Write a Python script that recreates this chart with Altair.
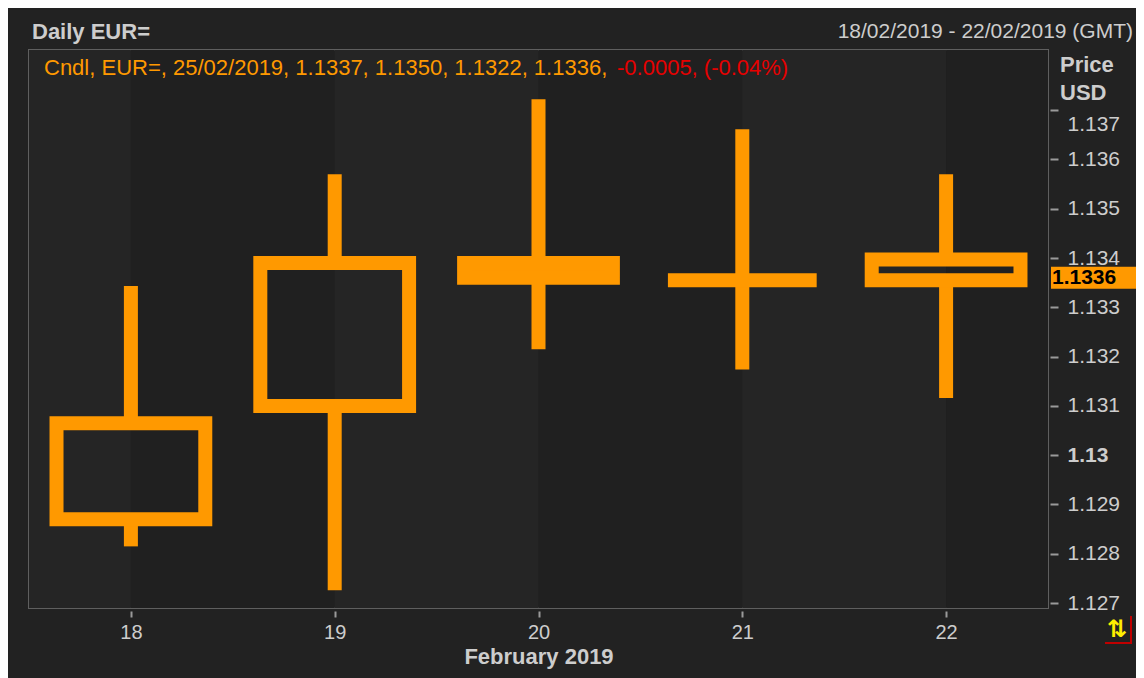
import altair as alt
import pandas as pd

# ---- data ----
days = [18, 19, 20, 21, 22]
opens = [1.12870, 1.13100, 1.13390, 1.13355, 1.13355]
highs = [1.13343, 1.13570, 1.13722, 1.13661, 1.13570]
lows = [1.12815, 1.12726, 1.13215, 1.13174, 1.13116]
closes = [1.13065, 1.13390, 1.13360, 1.13355, 1.13397]

y_ticks = [1.127, 1.128, 1.129, 1.13, 1.131, 1.132, 1.133, 1.134, 1.135, 1.136, 1.137]
x_ticks = [18, 19, 20, 21, 22]

band_start = [17.5, 18, 19, 20, 21, 22]
band_end = [18, 19, 20, 21, 22, 22.5]
band_shade = ["light", "dark", "light", "dark", "light", "dark"]

last_price = 1.1336
last_label = "1.1336"

title_left = "Daily EUR="
title_right = "18/02/2019 - 22/02/2019 (GMT)"
legend_main = "Cndl, EUR=, 25/02/2019, 1.1337, 1.1350, 1.1322, 1.1336, "
legend_change = "-0.0005, (-0.04%)"
axis_unit_1 = "Price"
axis_unit_2 = "USD"
x_title = "February 2019"
icon_glyph = "⇅"

# ---- styling ----
ORANGE = "#ff9900"
RED = "#e60000"
GREY_TXT = "#cdcdcd"
BG = "#222222"
FONT = "Liberation Sans"
W, H = 1019, 558
HALF_BODY = 0.365

df = pd.DataFrame({"day": days, "open": opens, "high": highs, "low": lows, "close": closes})
bands = pd.DataFrame({"start": band_start, "end": band_end, "shade": band_shade})

x_scale = alt.Scale(domain=[17.5, 22.5], nice=False, zero=False)
y_scale = alt.Scale(domain=[1.12690, 1.13822], nice=False, zero=False)

band_layer = alt.Chart(bands).mark_rect().encode(
    x=alt.X("start:Q", scale=x_scale,
            axis=alt.Axis(values=x_ticks, format="d", title=x_title, grid=False, domain=False,
                          tickSize=6, tickWidth=2, tickColor="#9a9a9a", offset=3,
                          labelFontSize=20, labelColor=GREY_TXT, labelFont=FONT, labelPadding=5,
                          titleFontSize=22, titleFontWeight="bold", titleColor=GREY_TXT,
                          titleFont=FONT, titlePadding=4)),
    x2="end:Q",
    y=alt.value(0),
    y2=alt.value(H),
    color=alt.Color("shade:N", scale=alt.Scale(domain=["light", "dark"], range=["#252525", "#202020"]),
                    legend=None),
)

base = alt.Chart(df).transform_calculate(
    x0=f"datum.day - {HALF_BODY}",
    x1=f"datum.day + {HALF_BODY}",
    top="max(datum.open, datum.close)",
    bot="min(datum.open, datum.close)",
)

y_axis = alt.Axis(orient="right", values=y_ticks, format=".3~f", title=None, grid=False, domain=False,
                  tickSize=8, tickWidth=2, tickColor="#9a9a9a", offset=2,
                  labelFontSize=21, labelColor=GREY_TXT, labelFont=FONT, labelPadding=9,
                  labelOffset={"condition": {"test": "datum.value > 1.1365", "value": 14}, "value": 0},
                  labelFontWeight={"condition": {"test": "abs(datum.value - 1.13) < 1e-9", "value": "bold"},
                                   "value": "normal"})

upper_wick = base.mark_rule(strokeWidth=14, strokeCap="butt", color=ORANGE).encode(
    x=alt.X("day:Q", scale=x_scale),
    y=alt.Y("high:Q", scale=y_scale, axis=y_axis),
    y2="top:Q",
)
lower_wick = base.mark_rule(strokeWidth=14, strokeCap="butt", color=ORANGE).encode(
    x=alt.X("day:Q", scale=x_scale),
    y=alt.Y("bot:Q", scale=y_scale),
    y2="low:Q",
)
body = base.mark_rect(stroke=ORANGE, strokeWidth=14, fill=ORANGE, strokeJoin="miter").encode(
    x=alt.X("x0:Q", scale=x_scale),
    x2="x1:Q",
    y=alt.Y("open:Q", scale=y_scale),
    y2="close:Q",
    fillOpacity=alt.condition("datum.close < datum.open", alt.value(1), alt.value(0)),
)

last_df = pd.DataFrame({"price": [last_price], "label": [last_label]})
last_bg = alt.Chart(last_df).mark_rule(strokeWidth=22, strokeCap="butt", color=ORANGE).encode(
    x=alt.value(W + 3), x2=alt.value(W + 88), y=alt.Y("price:Q", scale=y_scale)
)
last_txt = alt.Chart(last_df).mark_text(align="left", baseline="middle", fontSize=21, fontWeight="bold",
                                        color="#000000", font=FONT).encode(
    x=alt.value(W + 4), y=alt.Y("price:Q", scale=y_scale), text="label:N"
)


def label(txt, x, y, align="left", color=GREY_TXT, weight="normal", size=22, font=FONT):
    d = pd.DataFrame({"t": [txt]})
    return alt.Chart(d).mark_text(align=align, baseline="middle", fontSize=size, fontWeight=weight,
                                  color=color, font=font).encode(
        x=alt.value(x), y=alt.value(y), text="t:N")


texts = [
    label(title_left, 3, -18, weight="bold"),
    label(title_right, 1104, -18, align="right", size=21),
    label(legend_main, 15, 18, color=ORANGE),
    label(legend_change, 588, 18, color=RED),
    label(axis_unit_1, 1031, 15, weight="bold"),
    label(axis_unit_2, 1031, 43, weight="bold"),
    label(icon_glyph, 1088, 580, align="center", color="#ffee00", weight="bold", size=24, font="DejaVu Sans"),
]

corner_df = pd.DataFrame({"k": [0]})
corner_h = alt.Chart(corner_df).mark_rule(color="#c00000", strokeWidth=2).encode(
    x=alt.value(1076), x2=alt.value(1103), y=alt.value(593))
corner_v = alt.Chart(corner_df).mark_rule(color="#c00000", strokeWidth=2).encode(
    x=alt.value(1102), y=alt.value(566), y2=alt.value(594))

chart = alt.layer(band_layer, upper_wick, lower_wick, body, last_bg, last_txt, corner_h, corner_v,
                  *texts).resolve_scale(
    color="independent"
).properties(
    width=W, height=H,
    padding={"left": 21, "top": 42, "right": 88, "bottom": 70},
    autosize=alt.AutoSizeParams(type="none"),
    background=BG,
).configure_view(stroke="#5f5f5f", strokeWidth=2)

chart.save("out.html", embed_options={"renderer": "svg", "actions": False})
